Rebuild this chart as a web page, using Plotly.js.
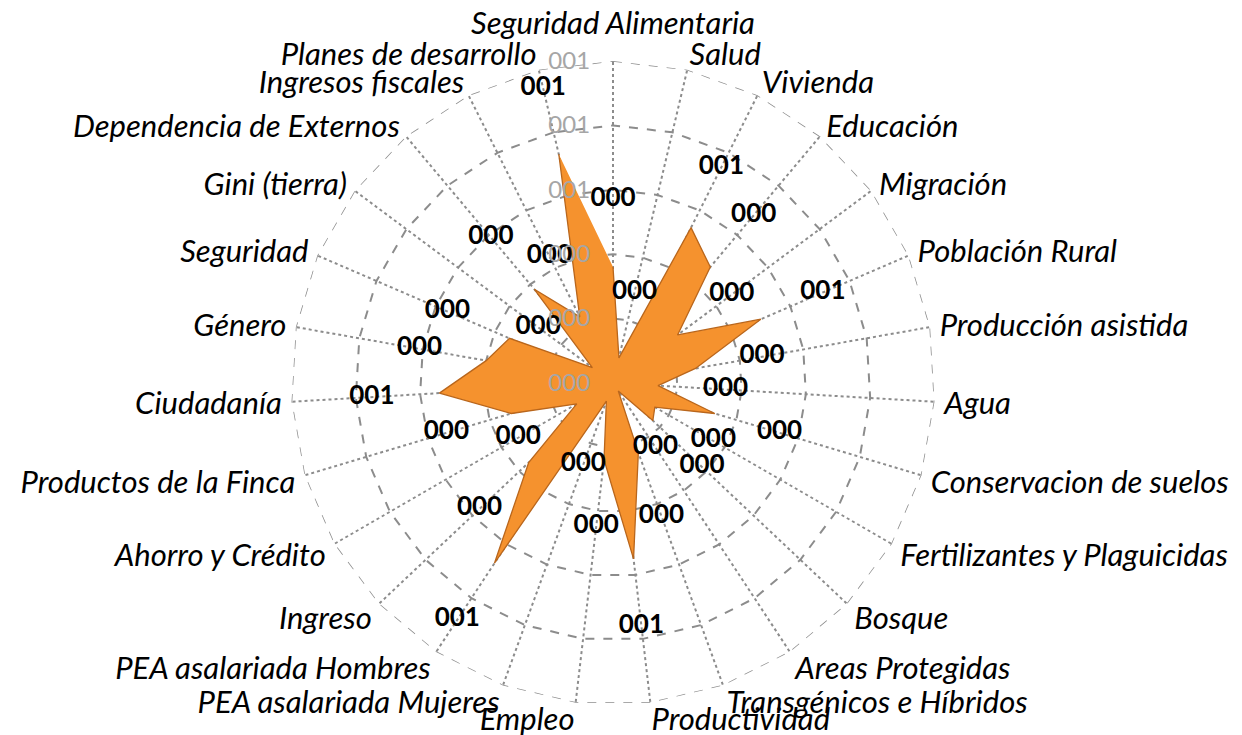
<!DOCTYPE html>
<html>
<head>
<meta charset="utf-8">
<script src="https://cdn.plot.ly/plotly-3.0.1.min.js"></script>
<style>
  body { margin: 0; background: #fff; }
  #grafico { width: 1242px; height: 735px; }
</style>
</head>
<body>
<div id="grafico"></div>
<script>
// categorias del radar, en sentido horario desde arriba
var categorias = [
  'Seguridad Alimentaria', 'Salud', 'Vivienda', 'Educación', 'Migración',
  'Población Rural', 'Producción asistida', 'Agua', 'Conservacion de suelos',
  'Fertilizantes y Plaguicidas', 'Bosque', 'Areas Protegidas',
  'Transgénicos e Híbridos', 'Productividad', 'Empleo',
  'PEA asalariada Mujeres', 'PEA asalariada Hombres', 'Ingreso',
  'Ahorro y Crédito', 'Productos de la Finca', 'Ciudadanía', 'Género',
  'Seguridad', 'Gini (tierra)', 'Dependencia de Externos',
  'Ingresos fiscales', 'Planes de desarrollo'
];

// valores
var valores = [
  0.36, 0.08, 0.54, 0.47, 0.25,
  0.50, 0.26, 0.14, 0.33,
  0.15, 0.17, 0.03,
  0.23, 0.55, 0.24,
  0.06, 0.67, 0.36,
  0.13, 0.33, 0.54, 0.40,
  0.35, 0.08, 0.38,
  0.23, 0.73
];

var ticksRadiales = [0, 0.2, 0.4, 0.6, 0.8, 1.0];

// formato "000" como en la hoja original
function fmt(v) {
  return String(Math.round(v)).padStart(3, '0');
}

var gris = '#8C8C8C';

// borde exterior punteado (plotly no dibuja la rejilla en el maximo)
var borde = {
  type: 'scatterpolar',
  r: categorias.concat(categorias[0]).map(function () { return ticksRadiales[ticksRadiales.length - 1]; }),
  theta: categorias.concat(categorias[0]),
  mode: 'lines',
  line: { color: gris, width: 1.5, dash: 'dash' },
  hoverinfo: 'skip'
};

var serie = {
  type: 'scatterpolar',
  r: valores,
  theta: categorias,
  mode: 'lines',
  fill: 'toself',
  fillcolor: '#F5922E',
  line: { color: '#B9661C', width: 1.3 },
  hoverinfo: 'skip'
};

// etiquetas de datos, un poco por fuera de cada punto
var etiquetas = {
  type: 'scatterpolar',
  r: valores.map(function (v) { return v + 0.21; }),
  theta: categorias,
  mode: 'text',
  text: valores.map(fmt),
  textfont: { family: 'Lato', size: 26, weight: 'bold', color: '#000' },
  hoverinfo: 'skip'
};

var layout = {
  width: 1242,
  height: 735,
  margin: { l: 0, r: 16, t: 61, b: 30 },
  paper_bgcolor: '#fff',
  showlegend: false,
  polar: {
    bgcolor: '#fff',
    gridshape: 'linear',
    domain: { x: [0, 1], y: [0, 1] },
    radialaxis: {
      range: [0, 1],
      tickvals: ticksRadiales,
      ticktext: ticksRadiales.map(fmt),
      angle: 90,
      tickangle: 90,
      side: 'counterclockwise',
      showline: false,
      ticks: 'outside',
      ticklen: 14,
      tickcolor: 'rgba(0,0,0,0)',
      tickfont: { family: 'Lato', size: 24, color: '#A6A6A6' },
      gridcolor: gris,
      gridwidth: 1.5,
      griddash: 'dash'
    },
    angularaxis: {
      direction: 'clockwise',
      rotation: 90,
      showline: false,
      ticks: 'outside',
      ticklen: 3,
      tickcolor: 'rgba(0,0,0,0)',
      gridcolor: gris,
      gridwidth: 1.5,
      griddash: 'dot',
      tickfont: { family: 'Lato', size: 31, style: 'italic', color: '#000' }
    }
  }
};

Plotly.newPlot('grafico', [borde, serie, etiquetas], layout, { displayModeBar: false }).then(function (gd) {
  // acercar verticalmente las etiquetas de categoria al borde, como en Excel
  var textos = gd.querySelectorAll('.angularaxistick text');
  textos.forEach(function (t) {
    var i = categorias.indexOf(t.textContent);
    if (i < 0) return;
    var c = Math.cos(i * 2 * Math.PI / categorias.length);
    var dy = c > 0 ? 8 * c : 15 * c;
    if (i === 0) dy = -11; // la de arriba queda mas alta en el original
    t.setAttribute('transform', (t.getAttribute('transform') || '') + ' translate(0,' + dy.toFixed(1) + ')');
  });
});
</script>
</body>
</html>
